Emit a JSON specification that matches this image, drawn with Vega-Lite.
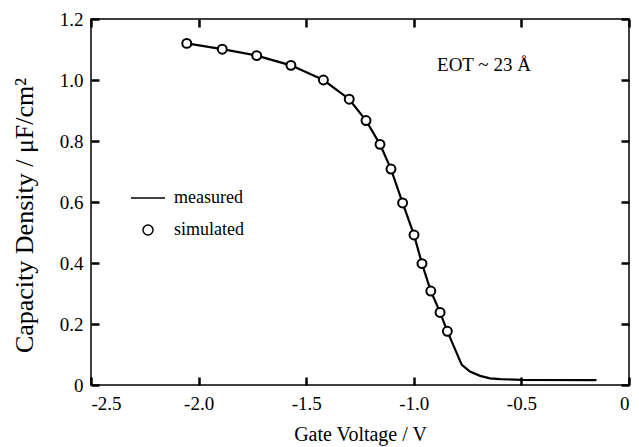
{
  "$schema": "https://vega.github.io/schema/vega-lite/v6.json",
  "width": 538,
  "height": 366,
  "autosize": "none",
  "padding": {"left": 91, "top": 19, "right": 10, "bottom": 62},
  "background": "white",
  "config": {
    "font": "Liberation Serif",
    "view": {"stroke": "black", "strokeWidth": 1.5},
    "axis": {
      "domain": false,
      "grid": false,
      "ticks": true,
      "zindex": 1,
      "tickColor": "black",
      "tickOpacity": 1,
      "tickWidth": 2.5,
      "tickSize": 8,
      "offset": -8,
      "labelColor": "black",
      "labelFont": "Liberation Serif",
      "labelFontSize": 19,
      "titleColor": "black",
      "titleFont": "Liberation Serif",
      "titleFontWeight": "normal"
    },
    "legend": {
      "labelFont": "Liberation Serif",
      "labelFontSize": 18,
      "labelColor": "black",
      "labelOffset": 17,
      "rowPadding": 14
    }
  },
  "datasets": {
    "measured": [
      {"v": -2.055, "c": 1.120}, {"v": -1.890, "c": 1.101}, {"v": -1.730, "c": 1.080},
      {"v": -1.571, "c": 1.048}, {"v": -1.420, "c": 1.000}, {"v": -1.300, "c": 0.937},
      {"v": -1.222, "c": 0.867}, {"v": -1.157, "c": 0.789}, {"v": -1.106, "c": 0.708},
      {"v": -1.052, "c": 0.597}, {"v": -0.999, "c": 0.492}, {"v": -0.962, "c": 0.398},
      {"v": -0.921, "c": 0.308}, {"v": -0.878, "c": 0.238}, {"v": -0.844, "c": 0.176},
      {"v": -0.777, "c": 0.066}, {"v": -0.739, "c": 0.044}, {"v": -0.692, "c": 0.030},
      {"v": -0.646, "c": 0.022}, {"v": -0.599, "c": 0.019}, {"v": -0.500, "c": 0.017},
      {"v": -0.151, "c": 0.016}
    ],
    "simulated": [
      {"v": -2.055, "c": 1.120, "series": "simulated"}, {"v": -1.890, "c": 1.101, "series": "simulated"},
      {"v": -1.730, "c": 1.080, "series": "simulated"}, {"v": -1.571, "c": 1.048, "series": "simulated"},
      {"v": -1.420, "c": 1.000, "series": "simulated"}, {"v": -1.300, "c": 0.937, "series": "simulated"},
      {"v": -1.222, "c": 0.867, "series": "simulated"}, {"v": -1.157, "c": 0.789, "series": "simulated"},
      {"v": -1.106, "c": 0.708, "series": "simulated"}, {"v": -1.052, "c": 0.597, "series": "simulated"},
      {"v": -0.999, "c": 0.492, "series": "simulated"}, {"v": -0.962, "c": 0.398, "series": "simulated"},
      {"v": -0.921, "c": 0.308, "series": "simulated"}, {"v": -0.878, "c": 0.238, "series": "simulated"},
      {"v": -0.844, "c": 0.176, "series": "simulated"}
    ],
    "annot": [{"v": -0.674, "c": 1.049, "label": "EOT ~ 23 Å"}]
  },
  "layer": [
    {
      "data": {"name": "measured"},
      "mark": {"type": "line", "color": "black", "strokeWidth": 2.2},
      "encoding": {
        "x": {
          "field": "v", "type": "quantitative",
          "scale": {"domain": [-2.5, 0], "nice": false, "zero": false},
          "axis": {
            "orient": "bottom",
            "title": "Gate Voltage / V",
            "titleFontSize": 20,
            "values": [-2.5, -2, -1.5, -1, -0.5, 0],
            "labelExpr": "datum.value == 0 ? '0' : (datum.value < 0 ? '-' : '') + format(abs(datum.value), '.1f')",
            "labelPadding": 9,
            "titlePadding": 11
          }
        },
        "y": {
          "field": "c", "type": "quantitative",
          "scale": {"domain": [0, 1.2], "nice": false},
          "axis": {
            "orient": "left",
            "title": "Capacity Density / μF/cm²",
            "titleFontSize": 26,
            "titleY": 196,
            "values": [0, 0.2, 0.4, 0.6, 0.8, 1.0, 1.2],
            "labelExpr": "datum.value == 0 ? '0' : format(datum.value, '.1f')",
            "labelPadding": 8,
            "titlePadding": 22
          }
        }
      }
    },
    {
      "data": {"name": "simulated"},
      "mark": {"type": "point", "fill": "white", "stroke": "black", "strokeWidth": 2, "size": 80, "opacity": 1, "filled": true},
      "encoding": {
        "x": {
          "field": "v", "type": "quantitative",
          "axis": {"orient": "top", "title": null, "labels": false, "values": [-2.5, -2, -1.5, -1, -0.5, 0]}
        },
        "y": {
          "field": "c", "type": "quantitative",
          "axis": {"orient": "right", "title": null, "labels": false, "values": [0, 0.2, 0.4, 0.6, 0.8, 1.0, 1.2]}
        },
        "shape": {
          "field": "series", "type": "nominal",
          "scale": {"domain": ["measured", "simulated"], "range": ["M-3.4,0L3.4,0", "circle"]},
          "legend": {
            "title": null,
            "orient": "none",
            "legendX": 48,
            "legendY": 170
          }
        }
      }
    },
    {
      "data": {"name": "annot"},
      "mark": {"type": "text", "font": "Liberation Serif", "fontSize": 19, "color": "black", "align": "center", "baseline": "middle"},
      "encoding": {
        "x": {"field": "v", "type": "quantitative", "axis": null},
        "y": {"field": "c", "type": "quantitative", "axis": null},
        "text": {"field": "label"}
      }
    }
  ],
  "resolve": {"axis": {"x": "independent", "y": "independent"}}
}
